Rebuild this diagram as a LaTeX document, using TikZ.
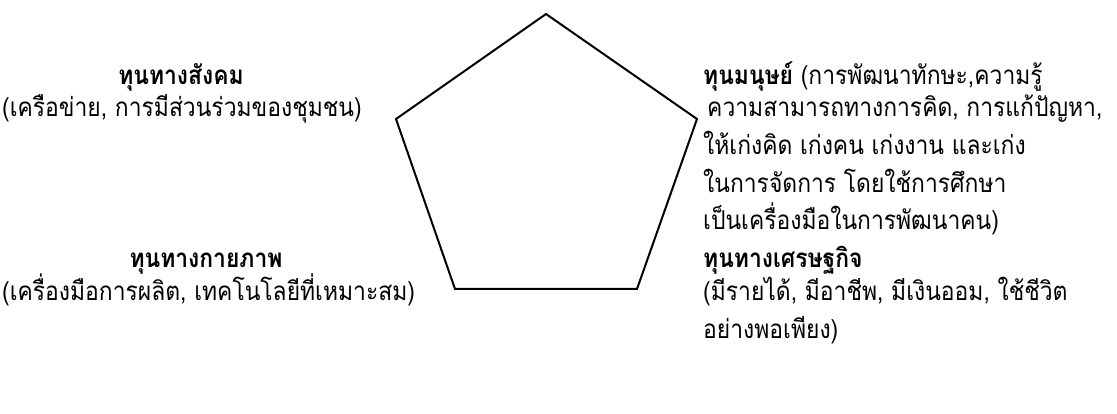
\documentclass[tikz,border=0pt]{standalone}
\usepackage{fontspec}
\newfontfamily\thai[Script=Thai,FakeStretch=0.88]{Loma}
\begin{document}
\begin{tikzpicture}[x=1pt,y=-1pt,
  txt/.style={anchor=base west, inner sep=0pt, font=\thai\fontsize{26}{30}\selectfont},
  ctxt/.style={anchor=base, inner sep=0pt, font=\thai\fontsize{26}{30}\selectfont},
  edge/.style={draw=black, line width=2pt, line join=miter}]
\useasboundingbox (0,0) rectangle (1117,414);
% pentagon
\coordinate (pt) at (546,14);
\coordinate (pr) at (697,119);
\coordinate (pbr) at (637,289);
\coordinate (pbl) at (455,289);
\coordinate (pl) at (396,119);
\draw[edge] (pt) -- (pr) -- (pbr) -- (pbl) -- (pl) -- cycle;
% top left
\node[ctxt] (socT) at (181,85) {\bfseries ทุนทางสังคม};
\node[txt] (socD) at (2,117) {(เครือข่าย, การมีส่วนร่วมของชุมชน)};
% top right
\node[txt] (humT) at (703,85) {\textbf{ทุนมนุษย์} (การพัฒนาทักษะ,ความรู้};
\node[txt] (humA) at (707,117) {ความสามารถทางการคิด, การแก้ปัญหา,};
\node[txt] (humB) at (703,155) {ให้เก่งคิด เก่งคน เก่งงาน และเก่ง};
\node[txt] (humC) at (703,193) {ในการจัดการ โดยใช้การศึกษา};
\node[txt] (humD) at (703,230) {เป็นเครื่องมือในการพัฒนาคน)};
% bottom right
\node[txt] (ecoT) at (703,268) {\bfseries ทุนทางเศรษฐกิจ};
\node[txt] (ecoA) at (703,301) {(มีรายได้, มีอาชีพ, มีเงินออม, ใช้ชีวิต};
\node[txt] (ecoB) at (703,338) {อย่างพอเพียง)};
% bottom left
\node[ctxt] (phyT) at (206,268) {\bfseries ทุนทางกายภาพ};
\node[txt] (phyD) at (2,301) {(เครื่องมือการผลิต, เทคโนโลยีที่เหมาะสม)};
\end{tikzpicture}
\end{document}
